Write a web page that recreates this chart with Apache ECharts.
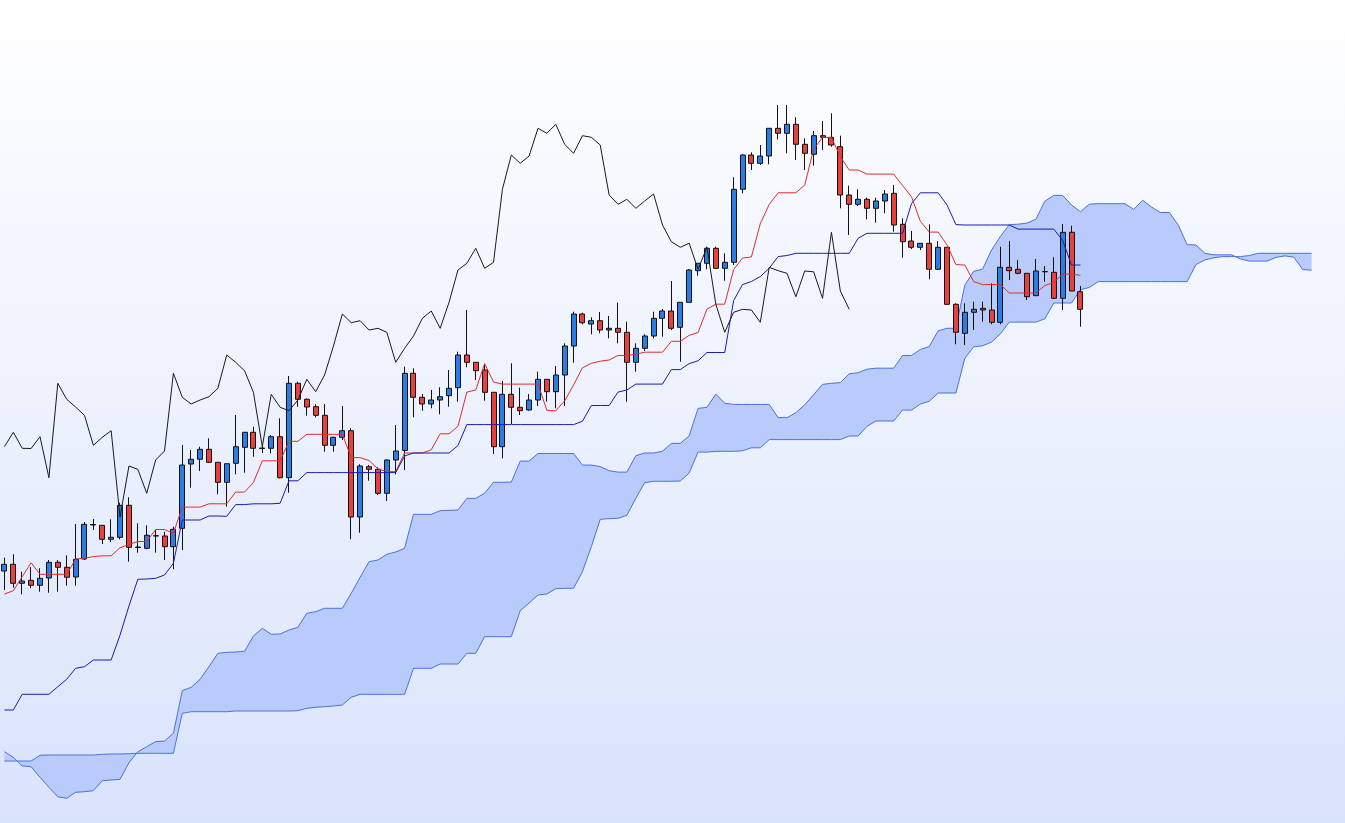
<!DOCTYPE html>
<html>
<head>
<meta charset="utf-8">
<script src="https://cdn.jsdelivr.net/npm/echarts/dist/echarts.min.js"></script>
<style>
html,body{margin:0;padding:0;width:100%;height:100%;overflow:hidden;background:#fff;}
#chart{width:1345px;height:823px;}
</style>
</head>
<body>
<div id="chart"></div>
<script>
// ---- data (price units) ----
const categories = Array.from({length: 151}, (_, i) => 'D' + (i + 1));

const opens = [252,258.7,239.7,242.7,237.7,245,260.7,255.7,246,264,
298,297.7,283.7,285.7,317.7,275.5,274.7,287,287,276.3,
294.7,359,363.7,373.7,360.7,340.7,359.7,375.7,390.7,375,
374.7,386.3,345.3,439.7,423.7,416.3,407.7,377.7,385.7,392.3,
306,356.3,353.7,329.7,363,372.5,449.7,425.7,419,423,
427.3,435.3,468,460.7,453,430.7,376.3,428.7,415.7,413,
423,443.7,431.3,448,477,509,499,502.3,493,494.7,
490.7,460.7,474.7,487,504.7,512,495.7,520.7,552.3,559.7,
574.7,554.7,560.7,633.7,668,659.7,667,694.7,689.7,698.7,
678.7,668.7,687.3,685.7,676.3,628,618.7,623.7,614.7,622,
629.7,598.7,582,575.7,579.7,553.7,575.7,518.7,489.7,510.7,
514.7,513,500.7,555.7,553.7,549.7,527.3,551.5,550.7,524.7,
590.7,531.3];

const closes = [258.7,239.7,242,237.7,244.7,260.7,255.7,245.7,263.7,298.7,
298.5,283.7,285.7,317.7,275.7,276,287.7,287.3,276.3,293.7,
358,363.7,373.7,360.7,340.7,359.3,376.3,390.7,374.7,374.5,
386.3,345.3,439.7,423.7,416,407.7,377.7,385.7,392.3,306,
357,353.7,329.7,363,372,449.7,425.7,419,423,426.3,
434.7,468,460.7,452.3,430.7,376.3,428.7,415.7,412.3,423,
443.7,431.3,448,477,509,500.3,502.3,493,494.7,490.7,
460.7,474.7,487,504.7,512,494.7,520.7,553,559.7,574.7,
554.7,560.7,633.7,668,659.7,667,694.7,689.7,698.7,678.7,
669.7,687.3,685.7,678,628,618.7,623.7,614.7,622,629,
598,581.3,575.7,579.7,553.7,575.7,518.7,490.7,510.7,513.7,
513,500.7,555.7,552.3,549.7,526.3,552,551.2,524.7,590.7,
532,513.7];

const lows = [233,235.3,228.7,234.7,231.3,230.3,231.3,237.3,237.3,263,
293,279,281,283.7,261.3,270.3,273.7,270.3,263,253.7,
273,335.3,352,360,328.7,316.3,348.7,350.3,366.3,370,
369.7,344.7,330.3,416.3,407.3,405.7,371.3,371.3,383,283.7,
290.3,342.3,328,322,348.7,353,405.7,412.3,414.7,408.7,
416.3,421.3,455.7,443,422.3,369,364.7,399,408,412.3,
417,421.3,414.7,417,460.3,498.7,488.7,489.7,484.7,479.7,
421.3,451.3,472,484.7,486.3,493,461.3,520.7,547.3,553.7,
554,542.3,558,629.7,653,658,658.7,683.7,669.7,663,
653,657.3,673,676.3,614.7,588,617,603.7,600.3,609.7,
591.3,565.3,574,573,543.7,553.7,518,478.7,478,493,
501.3,498.7,498.7,543,548.7,523,527.3,541.3,524,513,
532,496.3];

const highs = [265.3,268.7,251.3,256,254.7,263,263,267.7,299,301,
304,297.7,303.7,320.3,325.7,299.7,297.7,293,291.3,296.3,
378,373,376.3,384.7,360.7,359.3,408,390.7,396.3,377,
388,404.7,447,441.3,424.7,418.7,419,386.3,417,394.7,
358.7,358,355.7,363.7,398,456.3,454.7,429,433,435.7,
453,471.3,513,460.7,458,430.7,442,459.7,435.3,429,
451.3,443.7,457,479.7,511.3,510.3,505.7,511,507,520.3,
501.3,479.7,488.7,511.3,514,542,520.7,554,559.7,576.3,
576.3,569.7,645.7,668.7,670.7,678,694.7,718,718,705.7,
684.7,692,702,709.7,687.3,637.3,633.7,625.3,625.3,633,
638,604.7,592,579.7,598.7,582,575.7,519.7,519.7,521.3,
521.3,539.7,576.3,582,563,549.7,564,557,565.7,599,
597.3,537];

// conversion line (red)
const tenkan = [229,232.3,246.3,260.3,248.7,248.7,248.7,248.7,263.9,264.9,
266.4,267.2,267.2,275.3,278.5,281.5,281.5,293.5,293.5,289.7,
315.9,315.9,315.9,319.2,319.2,319.2,330.9,330.9,340.5,362.2,
362.2,362.2,381.7,381.7,388.7,388.7,388.7,388.7,388.7,365.4,
365.4,362.5,354.2,351.4,351.4,370,370,370,373.3,389.2,
389.2,396.7,430.9,433,459.4,441,438.9,438.9,438.9,438.9,
438.9,412.7,412.2,422.2,438,455.2,459.7,461.8,463,467.5,
467.5,468.7,470.8,470.8,470.8,481.7,481.7,487.7,490.5,513.8,
518.8,518.8,553.5,565,566,599.4,618.5,630.2,630.2,630.2,
638,673.9,685.5,685.5,666.4,653,653,648.9,648.9,648.9,
648.9,637.5,626.3,601.7,590.9,590.9,578,558.4,558,541.4,
538.4,538.4,538.4,530,530,530,530,537.5,540.4,548.9,
548.9,547.7];

// base line (dark blue)
const kijun = [113,113,128.7,128.7,128.7,128.7,136.3,143.7,154.7,156.3,
163,163,163,188,217,243.7,244,244.7,248,259.7,
303,303,303,307,307,306.7,318.4,318.4,319.2,319.2,
319.2,319.7,342.2,342.2,350.4,350.4,350.4,350.4,350.4,350.4,
350.4,350.4,350.4,350.4,350.4,367,370,370,370,370,
370,377.5,398.4,398.4,398.4,398.4,398.4,398.4,398.4,398.4,
398.4,398.4,398.4,398.4,398.4,401.7,417.5,417.5,417.5,430.9,
433,438.9,438.9,438.9,438.9,453.4,453.4,459.4,462.2,470.5,
470.5,470.5,522.4,538.4,541.5,546.4,554.7,566.4,567.5,569.7,
569.7,569.7,569.7,569.7,569.7,569.7,584.7,589.7,589.7,589.7,
589.7,589.7,619.4,630.2,630.2,630.2,618,598.4,598,598,
598,598,598,598,593.9,593.9,593.9,593.9,593.9,582.7,
558,558];

// lagging line (black), plotted 26 periods back
const chikou = [376.3,390.7,374.7,374.5,386.3,345.3,439.7,423.7,416,407.7,
377.7,385.7,392.3,306,357,353.7,329.7,363,372,449.7,
425.7,419,423,426.3,434.7,468,460.7,452.3,430.7,376.3,
428.7,415.7,412.3,423,443.7,431.3,448,477,509,500.3,
502.3,493,494.7,490.7,460.7,474.7,487,504.7,512,494.7,
520.7,553,559.7,574.7,554.7,560.7,633.7,668,659.7,667,
694.7,689.7,698.7,678.7,669.7,687.3,685.7,678,628,618.7,
623.7,614.7,622,629,598,581.3,575.7,579.7,553.7,575.7,
518.7,490.7,510.7,513.7,513,500.7,555.7,552.3,549.7,526.3,
552,551.2,524.7,590.7,532,513.7];

// leading span A / B (cloud edges), plotted 26 periods ahead
const spanA = [71.3,65.7,57,56.3,45.7,35.7,26.3,24.7,30.7,31.3,
32.3,42.3,43,43.7,60.3,71.3,76.3,81.3,82,89.7,
132.3,135.7,143.7,156.3,169.7,170.7,171,171.7,187,194.7,
188.7,189,193,195.7,209.7,211.3,214.7,214.7,214.7,229.7,
245.7,261.3,263,268.7,271,274.7,308.7,308.7,308.7,312.3,
312.7,313,324.6,324.6,329.8,340.7,340.7,340.9,361.9,361.9,
369.5,369.5,369.5,369.5,369.5,357.9,357.9,356.4,352.3,350.9,
350.9,367.3,370,370,371.7,379.6,379.6,387.1,414.6,415.7,
428.9,419.7,418.6,418.6,418.6,418.6,418.6,405.5,405.3,410.3,
418.2,428.4,438.6,439.7,440.3,449.2,450.3,453.8,454.8,454.8,
454.8,467.5,467.5,473.5,476.4,492.2,494.7,494.7,537.9,551.7,
553.8,572.9,586.6,598.3,598.8,599.9,603.8,621.8,627.6,627.6,
618,611.3,618.8,619.3,619.3,619.3,619.3,613.6,622.8,615.9,
610.5,610.5,598,578.4,578,569.7,568.2,568.2,568.2,564,
561.9,561.9,561.9,565.7,567.1,565.8,553.4,552.8];

const spanB = [62,62,62,62,67.7,68,68,68,68,68,
68,68.7,69,69,69.3,69.7,69.7,69.7,69.7,69.7,
109.7,111.3,111.3,111.3,111.3,111.3,112,112,112,112,
112,112,112,112.3,114.7,115.7,116.3,117,118,125.7,
128.7,128.7,128.7,128.7,128.7,128.7,154.7,154.7,154.7,159,
159,159,169.7,169.7,186.3,186.3,186.3,186.3,212.3,220,
228,229,234.3,234.7,234.7,251.3,276.3,303.7,304.3,304.7,
307.7,324.7,340.3,341.7,341.7,341.7,342,350,370.9,370.9,
371.7,371.7,371.7,372.2,375.2,375.2,383.4,383.4,383.4,383.4,
383.4,383.4,383.4,383.4,383.4,387,387,396.7,402,402,
402,412.9,412.9,418.9,421.7,430,430,430,464.7,476.2,
477.2,480.9,489.2,500.9,500.9,500.9,500.9,504.2,520,520,
520,533.4,535.5,541.4,541.4,541.4,541.4,541.4,541.4,541.4,
541.4,541.4,541.4,541.4,558.5,563,565.2,566.4,566.4,566.4,
567.5,569.7,569.7,569.7,569.7,569.7,569.7,569.7];

// ---- chart ----
const candleData = opens.map((o, i) => [o, closes[i], lows[i], highs[i]]);

const chart = echarts.init(document.getElementById('chart'), null, {renderer: 'canvas'});

function lineSeries(name, data, color, z) {
  return {
    name, type: 'line', data, symbol: 'none', showSymbol: false,
    lineStyle: {color, width: 1}, itemStyle: {color}, z, silent: true
  };
}

const option = {
  animation: false,
  backgroundColor: {
    type: 'linear', x: 0, y: 0, x2: 0, y2: 1,
    colorStops: [{offset: 0, color: '#ffffff'}, {offset: 1, color: '#d9e3fb'}]
  },
  grid: {left: -2.25, right: 2.25, top: 0, bottom: 0, containLabel: false},
  xAxis: {type: 'category', data: categories, boundaryGap: true, show: false},
  yAxis: {type: 'value', min: 0, max: 823, show: false, splitLine: {show: false}},
  series: [
    {
      name: 'Cloud', type: 'custom', silent: true, z: 1,
      data: spanA.map((v, i) => [i, v, spanB[i]]),
      renderItem: function (params, api) {
        if (params.dataIndex !== 0) return null;
        const pts = [];
        for (let i = 0; i < spanA.length; i++) pts.push(api.coord([i, spanA[i]]));
        for (let i = spanB.length - 1; i >= 0; i--) pts.push(api.coord([i, spanB[i]]));
        return {type: 'polygon', shape: {points: pts}, style: {fill: '#b8cbfa', stroke: null}};
      }
    },
    lineSeries('Span A', spanA, '#4b72dc', 2),
    lineSeries('Span B', spanB, '#4b72dc', 2),
    {
      name: 'Price', type: 'candlestick', data: candleData, barWidth: 5.5, z: 3,
      itemStyle: {
        color: '#2b7de6', color0: '#e8413d',
        borderColor: '#111111', borderColor0: '#111111', borderColorDoji: '#111111',
        borderWidth: 1
      }
    },
    lineSeries('Tenkan', tenkan, '#e62a2a', 4),
    lineSeries('Kijun', kijun, '#1b1caf', 4),
    lineSeries('Chikou', chikou, '#1a1a1a', 4)
  ]
};
chart.setOption(option);
</script>
</body>
</html>
